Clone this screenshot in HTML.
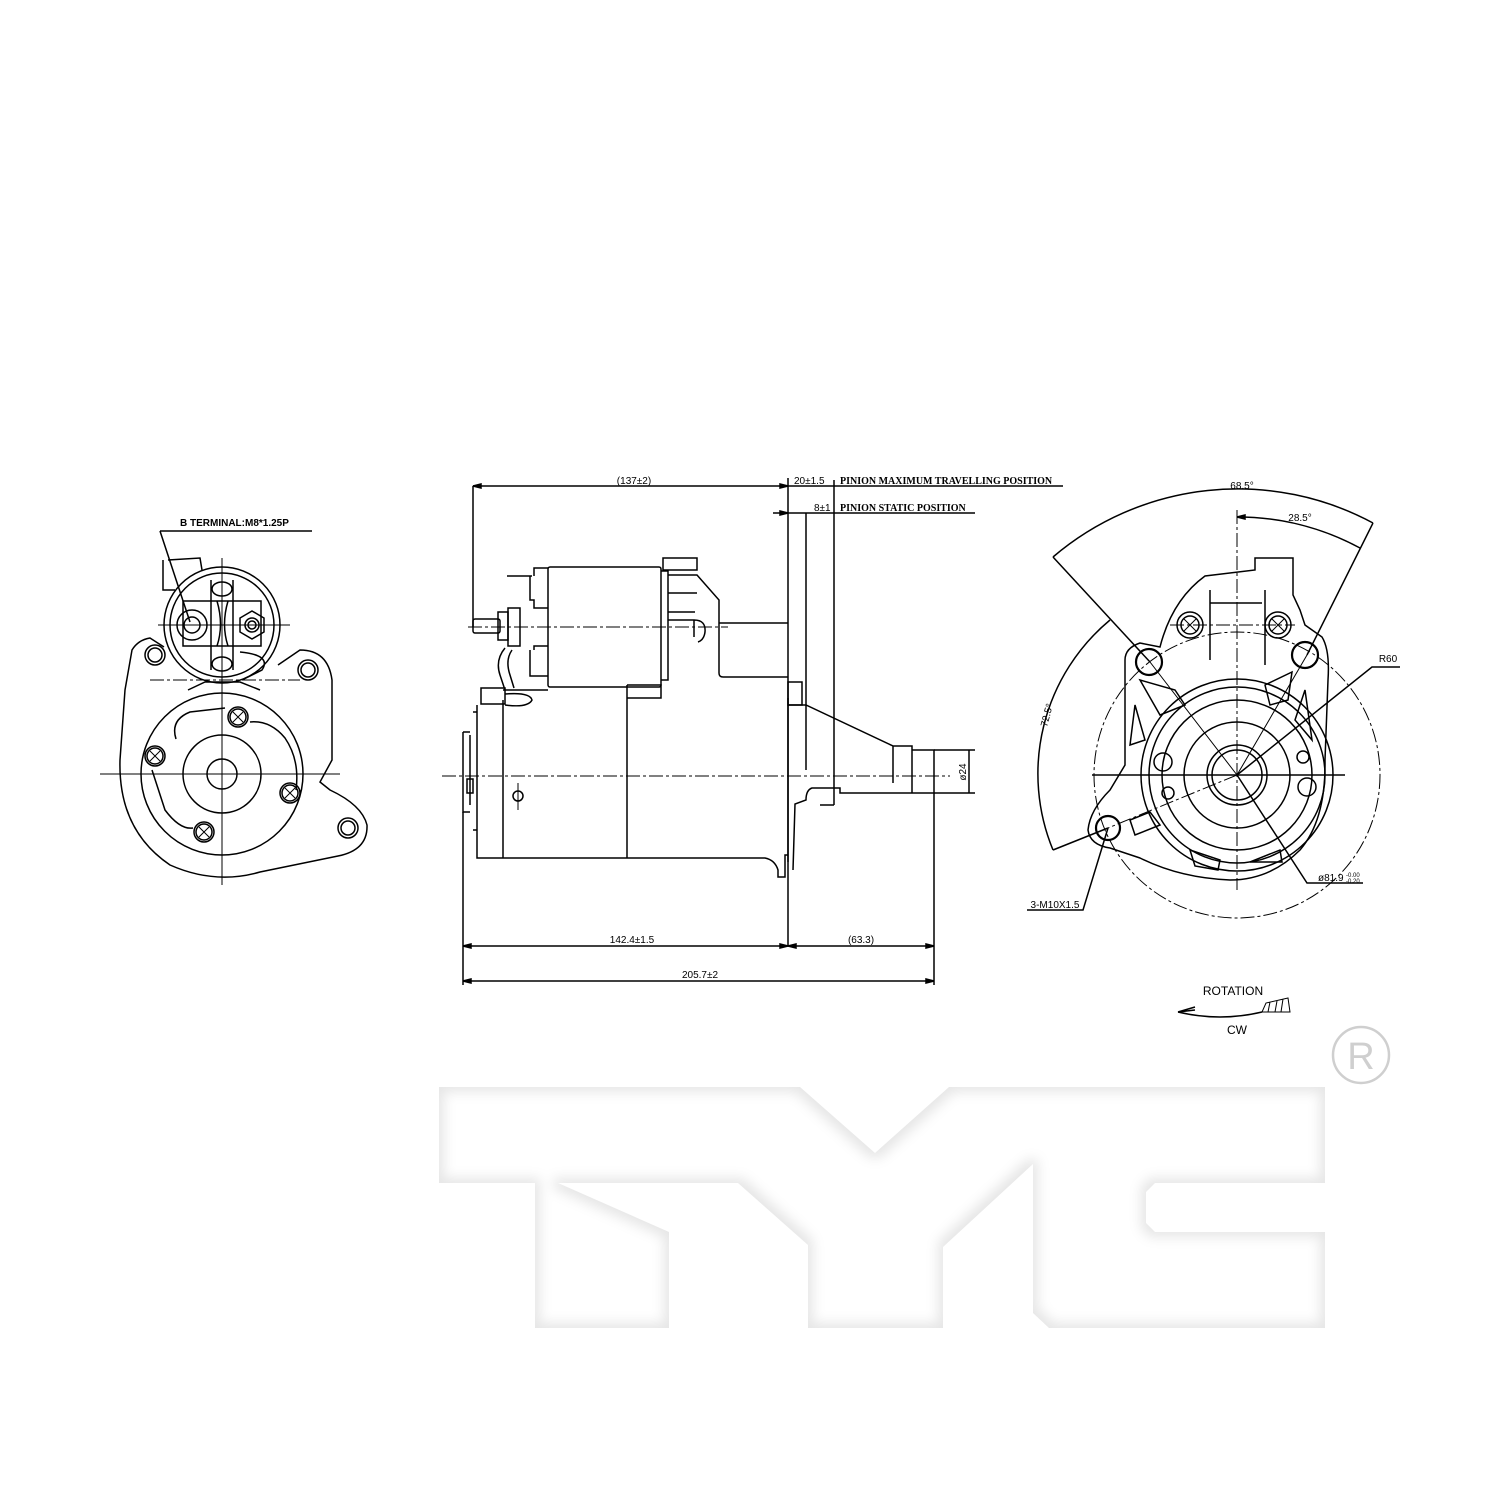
<!DOCTYPE html>
<html><head><meta charset="utf-8"><style>
html,body{margin:0;padding:0;background:#fff}
svg{display:block}
text{font-family:"Liberation Sans",sans-serif;fill:#000}
.s{font-family:"Liberation Serif",serif;font-weight:bold;font-size:10px}
</style></head><body>
<svg width="1500" height="1500" viewBox="0 0 1500 1500" xmlns="http://www.w3.org/2000/svg">
<defs>
<filter id="inn" x="-5%" y="-5%" width="110%" height="110%">
<feMorphology operator="erode" radius="5"/>
<feGaussianBlur stdDeviation="6"/>
</filter>
</defs>
<rect width="1500" height="1500" fill="#fff"/>

<g>
<path d="M439,1087 L800,1087 L875,1153 L949,1087 L1325,1087 L1325,1183 L1155,1183 L1146,1192 L1146,1223 L1155,1232 L1325,1232 L1325,1328 L1049,1328 L1033,1313 L1033,1164 L943,1247 L943,1328 L808,1328 L808,1245 L738,1183 L558,1183 L669,1232 L669,1328 L535,1328 L535,1183 L439,1183 Z" fill="#e6e6e6"/>
<path d="M439,1087 L800,1087 L875,1153 L949,1087 L1325,1087 L1325,1183 L1155,1183 L1146,1192 L1146,1223 L1155,1232 L1325,1232 L1325,1328 L1049,1328 L1033,1313 L1033,1164 L943,1247 L943,1328 L808,1328 L808,1245 L738,1183 L558,1183 L669,1232 L669,1328 L535,1328 L535,1183 L439,1183 Z" fill="#fff" filter="url(#inn)"/>
<circle cx="1361" cy="1055" r="28" fill="none" stroke="#cfcfcf" stroke-width="2.5"/>
<text x="1361" y="1069" font-size="38" text-anchor="middle" style="fill:#cfcfcf">R</text>
</g>

<g fill="none" stroke="#000" stroke-width="1.5">
<!-- LEFT VIEW -->
<line x1="160" y1="531" x2="312" y2="531"/>
<line x1="160" y1="531" x2="190" y2="622"/>
<circle cx="222" cy="625" r="58"/>
<circle cx="222" cy="625" r="52"/>
<path d="M163,560 L163,590 L175,590 M168,560 L200,558 L202,570"/>
<rect x="183" y="601" width="78" height="45"/>
<circle cx="192" cy="625" r="15"/>
<circle cx="192" cy="625" r="8"/>
<polygon points="252,611 264,618 264,632 252,639 240,632 240,618"/>
<circle cx="252" cy="625" r="7"/>
<circle cx="252" cy="625" r="4"/>
<path d="M211,580 L211,670 M233,580 L233,670 M217,601 Q224,625 217,646 M228,601 Q221,625 228,646"/>
<ellipse cx="222" cy="589" rx="10" ry="7"/>
<ellipse cx="222" cy="664" rx="10" ry="7"/>
<path d="M240,652 Q272,655 262,670 L242,680"/>
<line x1="222" y1="558" x2="222" y2="885" stroke-width="1"/>
<line x1="158" y1="625" x2="290" y2="625" stroke-width="1"/>
<line x1="150" y1="680" x2="300" y2="680" stroke-dasharray="14,3,3,3" stroke-width="1"/>
<path d="M164,647 L150,638 Q138,640 132,650 L125,690 L120,760 Q118,830 170,865 Q215,885 260,872 L338,856 Q368,850 367,825 Q362,805 330,790 L320,782 L332,760 L332,680 Q328,650 300,650 L278,665"/>
<path d="M188,690 L205,682 L240,682 L260,690"/>
<circle cx="222" cy="774" r="81"/>
<path d="M176,739 Q170,720 190,712 L225,708 M250,722 Q270,720 285,738 Q300,760 296,790 M193,828 Q180,830 165,810 L152,770"/>
<circle cx="222" cy="774" r="39"/>
<circle cx="222" cy="774" r="15"/>
<circle cx="155" cy="655" r="10"/><circle cx="155" cy="655" r="7"/>
<circle cx="308" cy="670" r="10"/><circle cx="308" cy="670" r="7"/>
<circle cx="348" cy="828" r="10"/><circle cx="348" cy="828" r="7"/>
<circle cx="238" cy="717" r="8"/><circle cx="238" cy="717" r="10"/>
<circle cx="155" cy="756" r="8"/><circle cx="155" cy="756" r="10"/>
<circle cx="290" cy="793" r="8"/><circle cx="290" cy="793" r="10"/>
<circle cx="204" cy="832" r="8"/><circle cx="204" cy="832" r="10"/>
<path d="M233,712 L243,722 M243,712 L233,722 M150,751 L160,761 M160,751 L150,761 M285,788 L295,798 M295,788 L285,798 M199,827 L209,837 M209,827 L199,837" stroke-width="1"/>
<line x1="100" y1="774" x2="340" y2="774" stroke-width="1"/>

<!-- MIDDLE VIEW -->
<line x1="473" y1="486" x2="1063" y2="486"/>
<line x1="773" y1="513" x2="975" y2="513"/>
<line x1="473" y1="486" x2="473" y2="627"/>
<line x1="788" y1="478" x2="788" y2="946"/>
<line x1="806" y1="513" x2="806" y2="770"/>
<line x1="834" y1="480" x2="834" y2="805"/>
<path d="M473,486 l8,-2 v4 z M788,486 l-8,-2 v4 z M788,513 l-8,-2 v4 z" fill="#000"/>
<rect x="548" y="567" width="113" height="120" rx="2"/>
<path d="M507,576 L532,576 M530,576 L530,600 L534,600 L534,608 L548,608 M534,576 L534,568 L548,568"/>
<path d="M534,650 L534,646 L548,646 M530,650 L530,676 L548,676"/>
<rect x="508" y="608" width="12" height="38"/>
<rect x="473" y="619" width="27" height="14" rx="2"/>
<rect x="498" y="612" width="10" height="28"/>
<path d="M661,571 L668,571 L668,680 L661,680"/>
<rect x="663" y="558" width="34" height="12"/>
<path d="M668,575 L697,575 L719,600 L719,673 Q719,677 723,677 L788,677 M719,623 L788,623"/>
<path d="M668,593 L697,593 M668,612 L695,612 M668,620 L694,620 L694,637 M694,620 Q706,620 705,632 Q704,640 698,642"/>
<line x1="468" y1="627" x2="728" y2="627" stroke-dasharray="14,3,3,3" stroke-width="1"/>
<path d="M505,648 Q495,660 500,675 L505,690 M512,650 Q505,660 510,675 L514,688"/>
<rect x="481" y="688" width="24" height="16"/>
<path d="M505,694 Q530,692 532,700 Q528,708 505,705"/>
<path d="M477,705 L477,858 L503,858 L503,700 M503,690 L548,690 M503,858 L627,858 M627,685 L627,858 M627,685 L661,685 L661,698 L627,698"/>
<path d="M627,858 L765,858 Q775,860 778,870 L778,877 L785,877 L785,855 L788,855"/>
<path d="M788,698 L788,862"/>
<path d="M473,712 L477,712 M470,735 L470,805 M463,732 L470,732 M463,732 L463,812 L470,812 M473,830 L477,830"/>
<rect x="467" y="779" width="6" height="14"/>
<circle cx="518" cy="796" r="5"/>
<line x1="518" y1="783" x2="518" y2="810" stroke-width="1"/>
<rect x="788" y="682" width="14" height="23"/>
<path d="M788,705 L806,705 L893,746 L893,783 M893,746 L912,746 L912,793 M912,750 L934,750 L934,793 L840,793 L840,788 L812,788 Q806,790 806,800 L795,804 L793,870"/>
<path d="M834,805 L820,805"/>
<line x1="442" y1="776" x2="950" y2="776" stroke-dasharray="14,3,3,3" stroke-width="1"/>
<line x1="934" y1="750" x2="975" y2="750"/>
<line x1="934" y1="793" x2="975" y2="793"/>
<line x1="969" y1="750" x2="969" y2="793"/>
<line x1="463" y1="812" x2="463" y2="985"/>
<line x1="934" y1="793" x2="934" y2="985"/>
<line x1="463" y1="946" x2="934" y2="946"/>
<line x1="463" y1="981" x2="934" y2="981"/>
<path d="M463,946 l8,-2 v4 z M788,946 l-8,-2 v4 z M788,946 l8,-2 v4 z M934,946 l-8,-2 v4 z M463,981 l8,-2 v4 z M934,981 l-8,-2 v4 z" fill="#000"/>

<!-- RIGHT VIEW -->
<path d="M1053,557 A285,285 0 0 1 1373,523"/>
<path d="M1237,517 A258,258 0 0 1 1360,548"/>
<path d="M1110,620 A200,200 0 0 0 1053,850"/>
<line x1="1237" y1="510" x2="1237" y2="890" stroke-dasharray="14,3,3,3" stroke-width="1"/>
<line x1="1053" y1="557" x2="1150" y2="662"/>
<line x1="1373" y1="523" x2="1307" y2="655"/>
<line x1="1053" y1="850" x2="1108" y2="828"/>
<line x1="1237" y1="775" x2="1150" y2="662" stroke-width="1"/>
<line x1="1237" y1="775" x2="1307" y2="655" stroke-width="1"/>
<line x1="1237" y1="775" x2="1108" y2="828" stroke-dasharray="14,3,3,3" stroke-width="1"/>
<path d="M1237,517 l8,-2 v4 z" fill="#000"/>
<circle cx="1237" cy="775" r="143" stroke-dasharray="14,3,3,3" stroke-width="1"/>
<path d="M1125,660 Q1125,648 1140,643 L1160,647 Q1172,600 1205,576 L1255,570 L1255,558 L1293,558 L1293,595 L1300,610 L1305,625 L1322,637 Q1330,650 1328,680 L1325,760 Q1326,820 1300,850 Q1270,880 1230,880 Q1180,878 1140,858 L1110,848 Q1090,845 1088,830 Q1090,810 1110,790 L1125,765 Z"/>
<path d="M1210,590 L1210,660 M1265,590 L1265,665 M1210,603 L1262,603"/>
<circle cx="1190" cy="625" r="13"/><circle cx="1190" cy="625" r="9"/>
<circle cx="1278" cy="625" r="13"/><circle cx="1278" cy="625" r="9"/>
<path d="M1184,619 L1196,631 M1196,619 L1184,631 M1272,619 L1284,631 M1284,619 L1272,631" stroke-width="1"/>
<line x1="1170" y1="625" x2="1295" y2="625" stroke-dasharray="14,3,3,3" stroke-width="1"/>
<circle cx="1149" cy="662" r="13" stroke-width="2.2"/>
<circle cx="1305" cy="655" r="13" stroke-width="2.2"/>
<circle cx="1108" cy="828" r="12" stroke-width="2.2"/>
<circle cx="1237" cy="775" r="96"/>
<circle cx="1237" cy="775" r="88"/>
<circle cx="1237" cy="775" r="75"/>
<circle cx="1237" cy="775" r="53"/>
<circle cx="1237" cy="775" r="30"/>
<circle cx="1237" cy="775" r="25"/>
<circle cx="1163" cy="762" r="9"/>
<circle cx="1303" cy="757" r="6"/>
<circle cx="1307" cy="787" r="9"/>
<circle cx="1168" cy="793" r="6"/>
<path d="M1140,680 L1175,690 L1185,705 L1160,715 Z M1135,705 L1145,740 L1130,745 Z M1265,685 L1292,672 L1288,700 L1270,705 Z M1305,690 L1312,740 L1295,720 Z M1130,820 L1150,812 L1160,825 L1135,835 Z M1190,850 L1220,860 L1218,870 L1195,866 Z M1250,862 L1280,850 L1282,862 Z"/>
<line x1="1092" y1="775" x2="1345" y2="775"/>
<path d="M1237,775 L1372,667 L1400,667"/>
<path d="M1237,775 L1307,883 L1363,883"/>
<path d="M1027,910 L1083,910 L1108,828"/>
<path d="M1178,1012 Q1220,1022 1262,1012"/>
<path d="M1178,1012 L1195,1007 M1178,1012 L1195,1010"/>
<path d="M1262,1012 L1290,1012 L1288,998 L1266,1003 Z M1270,1002 L1268,1012 M1277,1001 L1275,1012 M1283,999 L1281,1012" stroke-width="1"/>
</g>

<text x="180" y="526" font-size="10" class="s" style="font-family:'Liberation Sans',sans-serif">B  TERMINAL:M8*1.25P</text>
<text x="634" y="484" font-size="10" text-anchor="middle">(137±2)</text>
<text x="794" y="484" font-size="10">20±1.5</text>
<text x="840" y="484" class="s">PINION  MAXIMUM  TRAVELLING  POSITION</text>
<text x="814" y="511" font-size="10">8±1</text>
<text x="840" y="511" class="s">PINION  STATIC  POSITION</text>
<text x="632" y="943" font-size="10" text-anchor="middle">142.4±1.5</text>
<text x="861" y="943" font-size="10" text-anchor="middle">(63.3)</text>
<text x="700" y="978" font-size="10" text-anchor="middle">205.7±2</text>
<text transform="translate(966,772) rotate(-90)" font-size="10" text-anchor="middle">ø24</text>
<text x="1242" y="489" font-size="10" text-anchor="middle">68.5°</text>
<text x="1300" y="521" font-size="10" text-anchor="middle">28.5°</text>
<text transform="translate(1050,716) rotate(-75)" font-size="10" text-anchor="middle">72.5°</text>
<text x="1388" y="662" font-size="10" text-anchor="middle">R60</text>
<text x="1318" y="881" font-size="10">ø81.9</text>
<text x="1346" y="877" font-size="6">-0.00</text>
<text x="1346" y="883" font-size="6">-0.20</text>
<text x="1055" y="908" font-size="10" text-anchor="middle">3-M10X1.5</text>
<text x="1233" y="995" font-size="12" text-anchor="middle">ROTATION</text>
<text x="1237" y="1034" font-size="12" text-anchor="middle">CW</text>
</svg>
</body></html>
